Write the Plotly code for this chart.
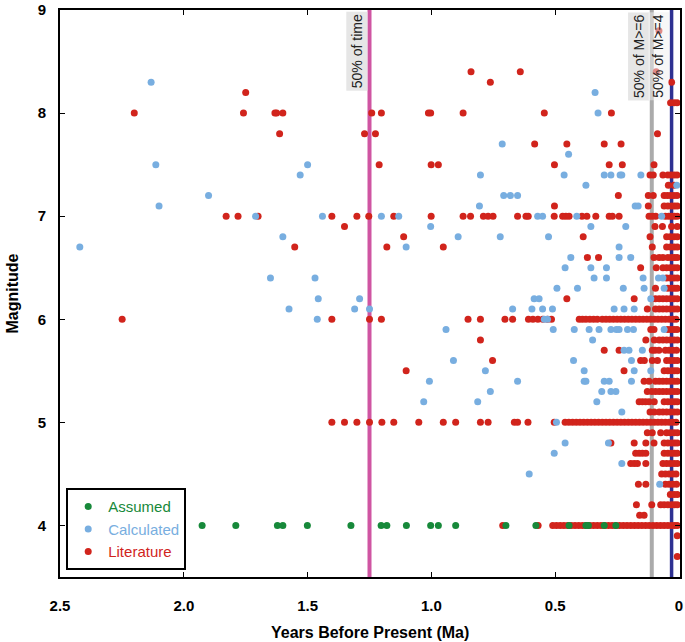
import plotly.graph_objects as go

# ---------------- data (age in Ma, magnitude) ----------------
assumed_age = [1.926, 1.79, 1.622, 1.60, 1.501, 1.325, 1.203, 1.18, 1.101, 1.003,
               0.972, 0.902, 0.699, 0.578, 0.444, 0.376, 0.366, 0.302, 0.255]
assumed_mag = [4.0] * 19

calculated_age = [
    2.132, 0.339, 0.327, 0.714, 0.446, 2.113, 1.50,
    1.53, 0.802, 0.464, 0.302, 0.275, 0.238, 0.231, 0.154,
    0.376, 0.009,
    1.90, 0.708, 0.681, 0.652,
    2.10, 0.806, 0.177, 0.165,
    1.71, 1.44, 1.202, 1.132, 0.571, 0.551, 0.413, 0.07,
    1.003, 0.356, 0.215,
    1.60, 0.892, 0.722, 0.527,
    2.42, 1.102, 0.242,
    0.437, 0.242, 0.195,
    0.46, 0.356, 0.293,
    1.65, 1.47, 0.343, 0.293, 0.145, 0.083, 0.065,
    0.493, 0.41, 0.225, 0.141, 0.06,
    1.457, 1.29, 0.585, 0.565, 0.114,
    1.575, 1.31, 1.25, 0.672, 0.594, 0.551, 0.511, 0.262, 0.222, 0.181,
    1.461, 0.544, 0.531,
    0.941, 0.508, 0.423, 0.363, 0.323, 0.275, 0.253, 0.242, 0.208, 0.184, 0.06,
    0.349,
    0.222, 0.202, 0.148,
    0.911, 0.426, 0.192,
    0.782, 0.383, 0.181, 0.114,
    1.008, 0.652, 0.383, 0.376, 0.302, 0.282, 0.192,
    0.762, 0.312, 0.275, 0.255,
    1.031, 0.813, 0.332,
    0.231, 0.495, 0.46, 0.285, 0.504, 0.231, 0.605, 0.078,
]
calculated_mag = [
    8.3, 8.2, 8.0, 7.7, 7.6, 7.5, 7.5,
    7.4, 7.4, 7.4, 7.4, 7.4, 7.4, 7.4, 7.4,
    7.3, 7.3,
    7.2, 7.2, 7.2, 7.2,
    7.1, 7.1, 7.1, 7.1,
    7.0, 7.0, 7.0, 7.0, 7.0, 7.0, 7.0, 7.0,
    6.9, 6.9, 6.9,
    6.8, 6.8, 6.8, 6.8,
    6.7, 6.7, 6.7,
    6.6, 6.6, 6.6,
    6.5, 6.5, 6.5,
    6.4, 6.4, 6.4, 6.4, 6.4, 6.4, 6.4,
    6.3, 6.3, 6.3, 6.3, 6.3,
    6.2, 6.2, 6.2, 6.2, 6.2,
    6.1, 6.1, 6.1, 6.1, 6.1, 6.1, 6.1, 6.1, 6.1, 6.1,
    6.0, 6.0, 6.0,
    5.9, 5.9, 5.9, 5.9, 5.9, 5.9, 5.9, 5.9, 5.9, 5.9, 5.9,
    5.8,
    5.7, 5.7, 5.7,
    5.6, 5.6, 5.6,
    5.5, 5.5, 5.5, 5.5,
    5.4, 5.4, 5.4, 5.4, 5.4, 5.4, 5.4,
    5.3, 5.3, 5.3, 5.3,
    5.2, 5.2, 5.2,
    5.1, 5.0, 4.8, 4.8, 4.7, 4.6, 4.5, 4.4,
]

literature_age = [
    # 8.8 - 8.1
    0.081, 0.84, 0.641, 0.092, 0.762, 0.03, 1.75, 0.034, 0.02, 0.008,
    # 8.0
    2.20, 1.759, 1.632, 1.625, 1.60, 1.241, 1.202, 1.012, 1.003, 0.872, 0.544, 0.273,
    # 7.8
    1.613, 1.27, 1.226, 0.087,
    # 7.7
    0.583, 0.453, 0.302, 0.234,
    # 7.5
    1.211, 1.001, 0.972, 0.503, 0.282, 0.229, 0.101,
    # 7.4
    0.117, 0.104, 0.065, 0.045, 0.032, 0.02, 0.008,
    # 7.3
    0.043, 0.02,
    # 7.2
    0.245, 0.124, 0.104, 0.06, 0.047, 0.034, 0.021, 0.008,
    # 7.1
    0.503, 0.124, 0.06, 0.045, 0.03, 0.018, 0.007,
    # 7.0
    1.829, 1.781, 1.70, 1.402, 1.301, 1.253, 1.152, 1.001, 0.872, 0.842, 0.79, 0.771,
    0.751, 0.652, 0.618, 0.609, 0.504, 0.47, 0.457, 0.444, 0.392, 0.372, 0.336,
    0.282, 0.269, 0.242, 0.121, 0.108, 0.094, 0.055, 0.042, 0.03, 0.018, 0.007,
    # 6.9
    1.351, 0.097, 0.067, 0.03, 0.007,
    # 6.8
    1.112, 0.387, 0.117, 0.05, 0.035, 0.02, 0.007,
    # 6.7
    1.552, 1.18, 0.952, 0.108, 0.05, 0.035, 0.02, 0.007,
    # 6.6
    0.37, 0.325, 0.101, 0.08, 0.065, 0.045, 0.03, 0.018, 0.007,
    # 6.5
    0.155, 0.092, 0.065, 0.05, 0.035, 0.02, 0.007,
    # 6.4
    0.05, 0.035, 0.02, 0.007,
    # 6.3
    0.095, 0.045, 0.03, 0.018, 0.007,
    # 6.2
    0.453, 0.181, 0.095, 0.08, 0.065, 0.05, 0.035, 0.02, 0.007,
    # 6.1
    0.128, 0.095, 0.08, 0.065, 0.05, 0.035, 0.02, 0.007,
    # 6.0
    2.249, 1.402, 1.25, 1.202, 0.852, 0.802, 0.703, 0.672, 0.608, 0.59, 0.57, 0.55,
    0.531, 0.515, 0.403, 0.39, 0.376, 0.36, 0.345, 0.33, 0.31, 0.295, 0.28, 0.265,
    0.25, 0.235, 0.22, 0.205, 0.19, 0.175, 0.16, 0.145, 0.13, 0.115, 0.10, 0.085,
    0.07, 0.055, 0.04, 0.025, 0.012,
    # 5.9
    0.114, 0.101, 0.045, 0.032, 0.02, 0.008,
    # 5.8
    0.802, 0.134, 0.1, 0.08, 0.065, 0.05, 0.035, 0.02, 0.007,
    # 5.7
    0.302, 0.242, 0.108, 0.097, 0.081, 0.055, 0.04, 0.025, 0.01,
    # 5.6
    0.753, 0.155, 0.14, 0.108, 0.087, 0.05, 0.035, 0.02, 0.007,
    # 5.5
    1.102, 0.222, 0.06, 0.045, 0.03, 0.018, 0.007,
    # 5.4
    0.141, 0.121, 0.095, 0.08, 0.065, 0.05, 0.035, 0.02, 0.007,
    # 5.3
    0.128, 0.11, 0.095, 0.08, 0.065, 0.05, 0.035, 0.02, 0.007,
    # 5.2
    0.161, 0.148, 0.135, 0.121, 0.10, 0.06, 0.045, 0.03, 0.018, 0.007,
    # 5.1
    0.117, 0.1, 0.08, 0.065, 0.05, 0.035, 0.02, 0.007,
    # 5.0
    1.402, 1.351, 1.301, 1.25, 1.2, 1.152, 1.051, 0.952, 0.902, 0.802, 0.771, 0.665,
    0.652, 0.61, 0.504, 0.46, 0.445, 0.43, 0.415, 0.40, 0.385, 0.37, 0.355, 0.34,
    0.325, 0.31, 0.295, 0.28, 0.265, 0.25, 0.235, 0.22, 0.205, 0.19, 0.175, 0.16,
    0.145, 0.13, 0.115, 0.10, 0.085, 0.07, 0.055, 0.04, 0.025, 0.012,
    # 4.9
    0.128, 0.108, 0.074, 0.05, 0.035, 0.02, 0.007,
    # 4.8
    0.275, 0.181, 0.134, 0.101, 0.06, 0.045, 0.03, 0.018, 0.007,
    # 4.7
    0.175, 0.161, 0.148, 0.134, 0.06, 0.045, 0.03, 0.018, 0.007,
    # 4.6
    0.195, 0.181, 0.168, 0.134, 0.065, 0.05, 0.035, 0.02, 0.007,
    # 4.5
    0.07, 0.055, 0.04, 0.025, 0.012,
    # 4.4
    0.164, 0.134, 0.055, 0.04, 0.025, 0.01,
    # 4.3
    0.035, 0.02, 0.007,
    # 4.2
    0.172, 0.11, 0.074, 0.06, 0.045, 0.03, 0.018, 0.007,
    # 4.1
    0.159, 0.141,
    # 4.0
    0.712, 0.569, 0.51, 0.495, 0.48, 0.465, 0.45, 0.435, 0.42, 0.405, 0.39, 0.375,
    0.36, 0.345, 0.33, 0.315, 0.30, 0.285, 0.27, 0.255, 0.24, 0.225, 0.21, 0.195,
    0.18, 0.165, 0.15, 0.135, 0.12, 0.105, 0.09, 0.075, 0.06, 0.045, 0.03, 0.018, 0.007,
    # 3.9, 3.7
    0.007, 0.007,
]
literature_mag = (
    [8.8, 8.4, 8.4, 8.4, 8.3, 8.3, 8.2, 8.1, 8.1, 8.1]
    + [8.0] * 12 + [7.8] * 4 + [7.7] * 4 + [7.5] * 7 + [7.4] * 7 + [7.3] * 2
    + [7.2] * 8 + [7.1] * 7 + [7.0] * 34 + [6.9] * 5 + [6.8] * 7 + [6.7] * 8
    + [6.6] * 9 + [6.5] * 7 + [6.4] * 4 + [6.3] * 5 + [6.2] * 9 + [6.1] * 8
    + [6.0] * 41 + [5.9] * 6 + [5.8] * 9 + [5.7] * 9 + [5.6] * 9 + [5.5] * 7
    + [5.4] * 9 + [5.3] * 9 + [5.2] * 10 + [5.1] * 8 + [5.0] * 46 + [4.9] * 7
    + [4.8] * 9 + [4.7] * 9 + [4.6] * 9 + [4.5] * 5 + [4.4] * 6 + [4.3] * 3
    + [4.2] * 8 + [4.1] * 2 + [4.0] * 37 + [3.9, 3.7]
)

x_ticks = [2.5, 2.0, 1.5, 1.0, 0.5, 0.0]
x_tick_text = ["2.5", "2.0", "1.5", "1.0", "0.5", "0"]
y_ticks = [4, 5, 6, 7, 8, 9]

ref_lines_age = [1.25, 0.11, 0.03]
ref_lines_label = ["50% of time", "50% of M>=6", "50% of M>=4"]
ref_lines_color = ["#cf55a2", "#ababab", "#2e3192"]
ref_lines_width = [4, 4, 3.5]
ref_label_bg = ["#e6e6e6", "#e6e6e6", "rgba(240,240,240,0.5)"]

# ---------------- figure ----------------
GREEN, BLUE, RED = "#17893a", "#78aee0", "#d1241c"
FONT = "Liberation Sans, Arial, Helvetica, sans-serif"

fig = go.Figure()
# literature drawn first so that calculated / assumed points sit on top
for name, xs, ys, col in [("Literature", literature_age, literature_mag, RED),
                          ("Calculated", calculated_age, calculated_mag, BLUE),
                          ("Assumed", assumed_age, assumed_mag, GREEN)]:
    fig.add_trace(go.Scatter(
        x=xs, y=ys, mode="markers", cliponaxis=False,
        name=f"<span style='color:{col}'>{name}</span>",
        marker=dict(size=7, color=col, line=dict(width=0)),
    ))

for age, label, col, w, bg in zip(ref_lines_age, ref_lines_label, ref_lines_color,
                                  ref_lines_width, ref_label_bg):
    fig.add_shape(type="line", x0=age, x1=age, y0=0, y1=1, xref="x", yref="paper",
                  line=dict(color=col, width=w), layer="below")
    fig.add_annotation(x=age, y=0.997, xref="x", yref="paper", text=label,
                       textangle=-90, showarrow=False, xanchor="right", yanchor="top",
                       xshift=-2, bgcolor=bg, borderpad=2,
                       font=dict(family=FONT, size=14, color="#222222"))

# axis titles placed as annotations
fig.add_annotation(x=0.5, y=0, xref="paper", yref="paper", yshift=-55,
                   text="<b>Years Before Present (Ma)</b>", showarrow=False,
                   xanchor="center", yanchor="middle",
                   font=dict(family=FONT, size=16, color="black"))
fig.add_annotation(x=0, y=0.5, xref="paper", yref="paper", xshift=-48,
                   text="<b>Magnitude</b>", showarrow=False, textangle=-90,
                   xanchor="center", yanchor="middle",
                   font=dict(family=FONT, size=16, color="black"))

axis_common = dict(
    showgrid=False, zeroline=False, showline=True, linecolor="black", linewidth=2,
    mirror="allticks", ticks="inside", ticklen=5, tickwidth=1, tickcolor="black",
    automargin=False, ticklabeloverflow="allow",
    tickfont=dict(family=FONT, size=15, color="black", weight="bold"),
)
fig.update_xaxes(range=[2.5, -0.004], tickvals=x_ticks, ticktext=x_tick_text,
                 ticklabelstandoff=14, **axis_common)
fig.update_yaxes(range=[3.5, 9.0001], tickvals=y_ticks, ticklabelstandoff=9,
                 **axis_common)

fig.update_layout(
    width=685, height=642, margin=dict(l=60, r=5, t=10, b=65, autoexpand=False),
    plot_bgcolor="white", paper_bgcolor="white",
    legend=dict(x=0.01, y=0.012, xanchor="left", yanchor="bottom",
                traceorder="reversed",
                bordercolor="black", borderwidth=2, bgcolor="white",
                font=dict(family=FONT, size=15), itemwidth=30, tracegroupgap=0),
    showlegend=True,
)

fig.write_html("out.html", config={"displayModeBar": False},
               post_script="document.body.style.margin='0';document.body.style.overflow='hidden';")
